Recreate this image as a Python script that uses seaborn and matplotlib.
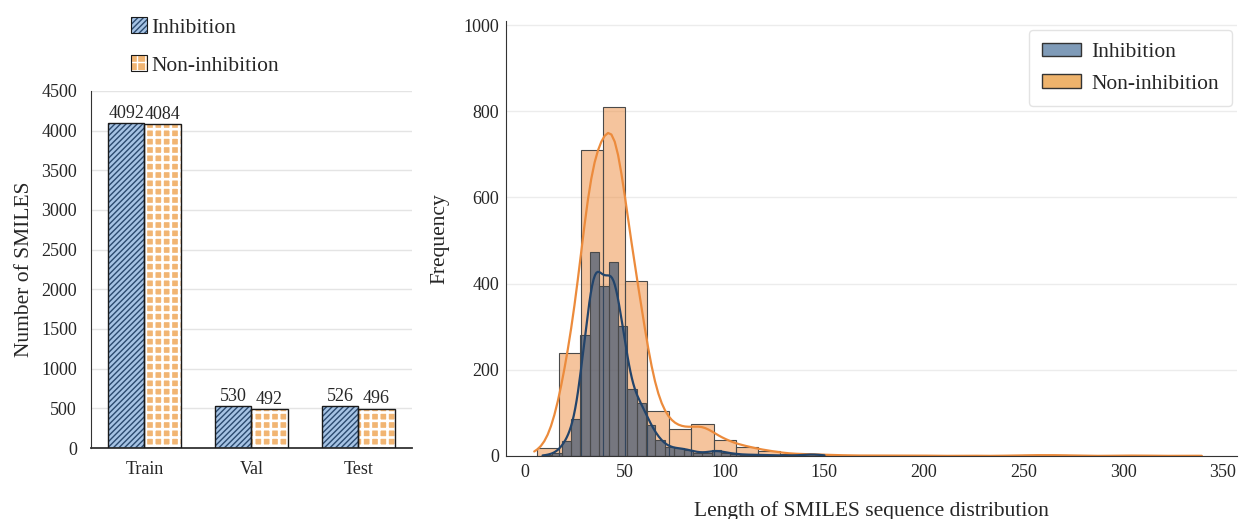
import matplotlib
matplotlib.use("Agg")
import matplotlib.pyplot as plt
import matplotlib.patches as mpatches
import numpy as np
import pandas as pd
import seaborn as sns

# ---------------------------------------------------------------------------
SPLITS = ["Train", "Val", "Test"]
CLASSES = ["Inhibition", "Non-inhibition"]
INHIB_COUNTS = [4092, 530, 526]
NONINHIB_COUNTS = [4084, 492, 496]

# SMILES length histograms (30 bins each)
INHIB_RANGE = (9, 150)
INHIB_HIST = [2, 8, 35, 85, 281, 474, 395, 451, 302, 155,
              123, 72, 37, 20, 18, 15, 8, 8, 14, 8,
              5, 3, 3, 2, 2, 1, 1, 2, 4, 3]
NONINHIB_RANGE = (6, 338)
NONINHIB_HIST = [19, 240, 710, 810, 406, 104, 62, 74, 37, 22,
                 12, 5, 4, 2, 1, 1, 1, 1, 0, 1,
                 0, 1, 2, 2, 1, 0, 1, 1, 0, 1]

BLUE_FACE, BLUE_HATCH = "#a6c3e4", "#2b4a6f"
ORANGE_FACE = "#f1b573"
HIST_BLUE, HIST_ORANGE = "#22446b", "#ec8b3c"

sns.set_style("white")
plt.rcParams["font.family"] = ["Liberation Serif", "DejaVu Serif"]

fig = plt.figure(figsize=(12.39, 5.19), dpi=100)
ax1 = fig.add_axes([0.0734, 0.1368, 0.259, 0.688])
ax2 = fig.add_axes([0.4084, 0.1214, 0.590, 0.8386])

# --- left: bar chart -------------------------------------------------------
df = pd.DataFrame({
    "split": SPLITS * 2,
    "cls": [CLASSES[0]] * 3 + [CLASSES[1]] * 3,
    "count": INHIB_COUNTS + NONINHIB_COUNTS,
})
sns.barplot(data=df, x="split", y="count", hue="cls", hue_order=CLASSES,
            palette=[BLUE_FACE, ORANGE_FACE], width=0.68, linewidth=0,
            saturation=1, ax=ax1, legend=False, zorder=2)
hatch_style = [("//////", BLUE_HATCH, 1.0), ("++", "white", 1.9)]


def style_hatch(p, h, hc, hw):
    p.set_hatch(h)
    p.set_edgecolor(hc)
    p.set_linewidth(0)
    if hasattr(p, "set_hatch_linewidth"):
        p.set_hatch_linewidth(hw)


for cont, hs in zip(ax1.containers[:2], hatch_style):
    for p in cont:
        style_hatch(p, *hs)
sns.barplot(data=df, x="split", y="count", hue="cls", hue_order=CLASSES,
            fill=False, width=0.68, ax=ax1, legend=False, zorder=3)
for cont in ax1.containers[2:]:
    for p in cont:
        p.set_edgecolor("#1a1a1a")
        p.set_linewidth(1.0)
for cont in ax1.containers[:2]:
    ax1.bar_label(cont, fmt="%d", padding=1, fontsize=13)

ax1.set_ylim(0, 4500)
ax1.set_yticks(np.arange(0, 4501, 500))
ax1.set_xlabel("")
ax1.set_ylabel("Number of SMILES", fontsize=15.5, labelpad=5)
ax1.yaxis.grid(True, color="#e4e4e4", lw=1)
ax1.set_axisbelow(True)
ax1.tick_params(axis="y", length=0, pad=10, labelsize=13)
ax1.tick_params(axis="x", length=0, pad=9, labelsize=13)
sns.despine(ax=ax1)
ax1.spines["left"].set_color("#333333")
ax1.spines["bottom"].set_color("#333333")
ax1.spines["bottom"].set_linewidth(1.3)

# legend handles: hatched fill + dark outline drawn on top of each other
leg_handles = []
for face, hs in zip([BLUE_FACE, ORANGE_FACE], hatch_style):
    fill_patch = mpatches.Patch(facecolor=face)
    style_hatch(fill_patch, *hs)
    outline = mpatches.Patch(facecolor="none", edgecolor="#1a1a1a", linewidth=0.8)
    leg_handles.append((fill_patch, outline))
fig.legend(handles=leg_handles, labels=CLASSES, loc="upper left",
           bbox_to_anchor=(0.092, 1.0), frameon=False, fontsize=15.5,
           handlelength=0.75, handleheight=0.75, handletextpad=0.2,
           labelspacing=0.83, borderpad=0.3)

# --- right: length histograms ----------------------------------------------
def draw_hist(ax, counts, rng, color, alpha, bw, cut):
    edges = np.linspace(rng[0], rng[1], len(counts) + 1)
    hist_df = pd.DataFrame({"length": (edges[:-1] + edges[1:]) / 2, "n": counts})
    sns.histplot(data=hist_df, x="length", weights="n", bins=len(counts),
                 binrange=rng, kde=True, kde_kws={"bw_adjust": bw, "cut": cut},
                 color=color, alpha=alpha, edgecolor="#4a4a4a", linewidth=0.8,
                 ax=ax, line_kws={"lw": 1.6})

draw_hist(ax2, NONINHIB_HIST, NONINHIB_RANGE, HIST_ORANGE, 0.5, 0.31, 0.45)
draw_hist(ax2, INHIB_HIST, INHIB_RANGE, HIST_BLUE, 0.6, 0.3, 0.4)

ax2.set_xlim(-9.5, 357)
ax2.set_ylim(0, 1010)
ax2.set_xticks(np.arange(0, 351, 50))
ax2.set_yticks(np.arange(0, 1001, 200))
ax2.set_xlabel("Length of SMILES sequence distribution", fontsize=15.5, labelpad=14)
ax2.set_ylabel("Frequency", fontsize=15.5, labelpad=10)
ax2.yaxis.grid(True, color="#ececec", lw=1)
ax2.set_axisbelow(True)
ax2.tick_params(axis="both", length=0, labelsize=13)
ax2.tick_params(axis="y", pad=5)
ax2.tick_params(axis="x", pad=6)
sns.despine(ax=ax2)
ax2.spines["left"].set_color("#333333")
ax2.spines["bottom"].set_color("#333333")

hist_handles = [
    mpatches.Patch(facecolor="#7f9bb8", edgecolor="#333333", label=CLASSES[0]),
    mpatches.Patch(facecolor="#eeb36c", edgecolor="#333333", label=CLASSES[1]),
]
ax2.legend(handles=hist_handles, loc="upper right", bbox_to_anchor=(0.993, 0.979),
           borderaxespad=0, fontsize=15.5, frameon=True, fancybox=True,
           edgecolor="#dddddd", handlelength=1.8, handleheight=0.6,
           handletextpad=0.5, labelspacing=0.55, borderpad=0.6)

fig.savefig("out.png", dpi=100)
